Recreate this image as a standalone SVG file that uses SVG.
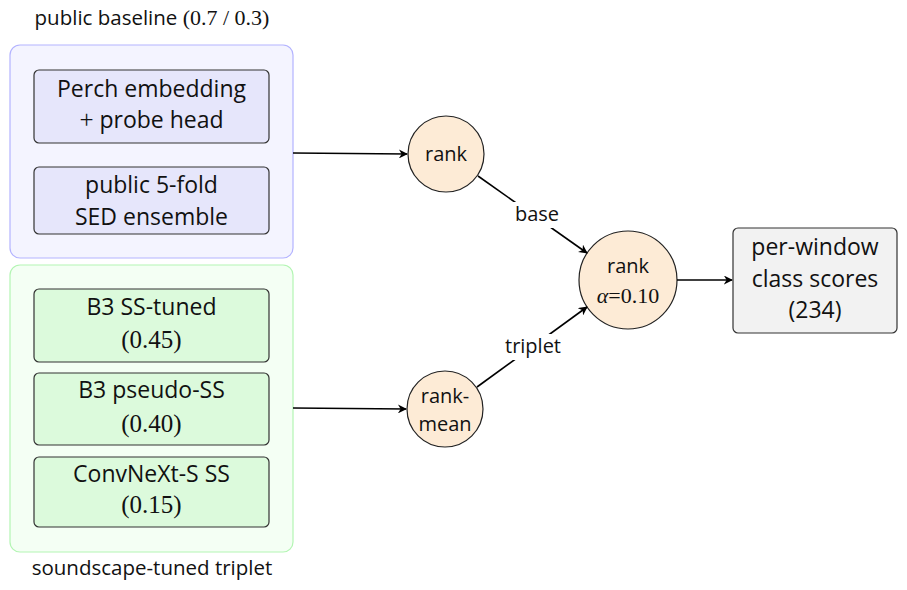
<svg xmlns="http://www.w3.org/2000/svg" width="907" height="590" viewBox="0 0 907 590">
<style>
text{font-family:"Open Sans","Noto Sans","Liberation Sans",sans-serif;fill:#111;text-anchor:middle}
.num{font-family:"Liberation Serif","DejaVu Serif",serif}
.t{font-size:23px}
.tn{font-size:25px}
.s{font-size:20.5px}
.c{font-size:20px}
.box{stroke:#333;stroke-width:1.2}
.blue{fill:#e6e6fb}
.green{fill:#dcfadc}
.circ{fill:#fdebd6;stroke:#222;stroke-width:1.2}
.edge{stroke:#000;stroke-width:1.6;fill:none;marker-end:url(#ah)}
</style>
<defs>
<marker id="ah" viewBox="0 0 10 10" refX="9" refY="5" markerWidth="9" markerHeight="9" markerUnits="userSpaceOnUse" orient="auto">
<path d="M0,0 L10,5 L0,10 L3,5 z" fill="#000"/>
</marker>
</defs>
<g id="baseline-group">
<rect x="10" y="45" width="283" height="213" rx="10" fill="#f4f4ff" stroke="#b3b3ff" stroke-width="1.2"/>
<text class="s" x="152" y="25">public baseline <tspan class="num" style="font-size:22px">(0.7 / 0.3)</tspan></text>
</g>
<g id="perch">
<rect class="box blue" x="34" y="70" width="235" height="73" rx="5"/>
<text class="t" x="151.5" y="97">Perch embedding</text>
<text class="t" x="151.5" y="128"><tspan class="num" style="font-size:25px">+</tspan> probe head</text>
</g>
<g id="sed">
<rect class="box blue" x="34" y="167" width="235" height="67" rx="5"/>
<text class="t" x="151.5" y="193">public 5-fold</text>
<text class="t" x="151.5" y="225">SED ensemble</text>
</g>
<g id="triplet-group">
<rect x="10" y="265" width="283" height="287" rx="10" fill="#f4fff4" stroke="#b3f5b3" stroke-width="1.2"/>
<text class="s" x="152" y="575">soundscape-tuned triplet</text>
</g>
<g id="b3ss">
<rect class="box green" x="34" y="289" width="235" height="73" rx="5"/>
<text class="t" x="151.5" y="315">B3 SS-tuned</text>
<text class="tn num" x="151.5" y="348">(0.45)</text>
</g>
<g id="b3pseudo">
<rect class="box green" x="34" y="373" width="235" height="72" rx="5"/>
<text class="t" x="151.5" y="398">B3 pseudo-SS</text>
<text class="tn num" x="151.5" y="432">(0.40)</text>
</g>
<g id="convnext">
<rect class="box green" x="34" y="457" width="235" height="70" rx="5"/>
<text class="t" x="151.5" y="482">ConvNeXt-S SS</text>
<text class="tn num" x="151.5" y="513">(0.15)</text>
</g>
<g id="rank1">
<circle class="circ" cx="446" cy="154" r="38"/>
<text class="c" x="446" y="161">rank</text>
</g>
<g id="rankmean">
<circle class="circ" cx="445" cy="409" r="38"/>
<text class="c" x="445" y="403">rank-</text>
<text class="c" x="445" y="431">mean</text>
</g>
<g id="blend">
<circle class="circ" cx="628" cy="280" r="49"/>
<text class="c" x="628" y="273">rank</text>
<text class="num" x="628" y="303" style="font-size:22px"><tspan font-style="italic">α</tspan>=0.10</text>
</g>
<g id="output">
<rect class="box" x="733" y="228" width="164" height="105" rx="5" fill="#f2f2f2"/>
<text class="t" x="815" y="255">per-window</text>
<text class="t" x="815" y="287">class scores</text>
<text class="t" x="815" y="318">(234)</text>
</g>
<g id="connectors">
<line class="edge" x1="293" y1="153" x2="407" y2="154"/>
<line class="edge" x1="293" y1="408" x2="406" y2="409"/>
<line class="edge" x1="478" y1="176" x2="587" y2="253"/>
<line class="edge" x1="477" y1="387" x2="587" y2="307"/>
<line class="edge" x1="677" y1="280" x2="732" y2="280"/>
<rect x="508" y="202" width="58" height="26" fill="#fff"/>
<text class="c" x="537" y="221">base</text>
<rect x="499" y="334" width="68" height="26" fill="#fff"/>
<text class="c" x="533" y="353">triplet</text>
</g>
</svg>
